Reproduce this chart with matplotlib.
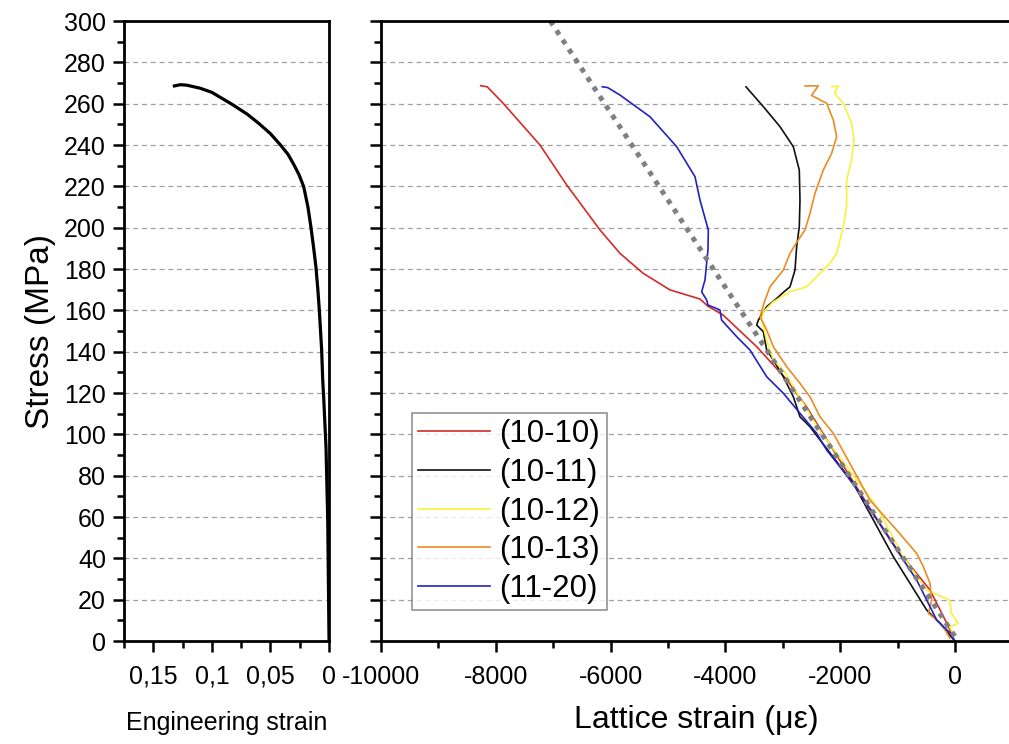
import numpy as np
import matplotlib
matplotlib.use('Agg')
import matplotlib.pyplot as plt
from matplotlib.ticker import MultipleLocator

plt.rcParams['font.family'] = ['Liberation Sans', 'DejaVu Sans']
plt.rcParams['axes.unicode_minus'] = False

# engineering curve (left panel)
eng_strain = [0.132, 0.127, 0.1216, 0.110, 0.100, 0.0819, 0.070, 0.060, 0.050, 0.0414,
              0.035, 0.030, 0.0255, 0.0216, 0.018, 0.0155, 0.0132, 0.0112, 0.0096, 0.0083,
              0.0063, 0.0054, 0.0046, 0.0026, 0.0011, 0.0]
eng_stress = [268.6, 269.2, 269, 267.5, 265.5, 259.4, 255, 250.5, 245.5, 240,
              235.5, 230.5, 225.5, 219.8, 210, 200.5, 190.5, 181.1, 170.5, 160.2,
              140.8, 126.3, 118.2, 94, 58.5, 0]

# lattice strains (right panel)
s_1010 = [-8263, -8150, -7875, -7230, -6765, -6185, -5837, -5436, -4966, -4443, -4304, -4043,
          -3450, -2927, -2579, -2230, -1500, -1000, -436, -150, -35]
y_1010 = [268.7, 268.2, 260.3, 240, 220.7, 198.9, 187.6, 178, 169.9, 165.5, 162, 157.8,
          142.3, 126.3, 113, 97.3, 65, 44, 24.7, 9, 2]

s_1011 = [-3642, -3340, -3049, -2817, -2713, -2701, -2713, -2759, -2788, -2875, -2980,
          -3107, -3281, -3427, -3455, -3340, -3281, -3165, -2991, -2817, -2701, -2527,
          -2352, -1771, -1074, -494, -262, -35]
y_1011 = [268.2, 258.6, 248.9, 239.2, 227.9, 213.4, 200.5, 190.8, 179.5, 171.4, 169,
          165.8, 161.8, 155.3, 152.9, 149.7, 140.8, 136, 127.9, 118.2, 108.5, 103.7,
          97.3, 76.3, 40.8, 15, 8.6, 1]

s_1012 = [-2149, -2033, -2100, -1947, -1801, -1760, -1801, -1888, -1888, -1947, -2033,
          -2062, -2178, -2295, -2469, -2585, -2875, -3165, -3340, -3368, -3281, -3165,
          -2991, -2817, -2643, -2469, -2323, -1365, -901, -494, -93, -64, 52, -93, -35]
y_1012 = [268.2, 268.6, 265, 260.2, 250.5, 242.4, 232.8, 223.1, 210.7, 200.5, 190.8,
          187.6, 182.8, 179.5, 174.7, 171.4, 169, 164.2, 159.3, 155.3, 145.6, 136,
          131.1, 123.1, 115, 106.9, 100.5, 65, 40.8, 24.7, 19.8, 13.4, 8.6, 6.9, 3.7]

s_1013 = [-2614, -2382, -2500, -2236, -2120, -2062, -2149, -2295, -2440, -2527, -2614,
          -2759, -2875, -2991, -3223, -3310, -3397, -3281, -3165, -2933, -2701, -2527,
          -2352, -2120, -1482, -1017, -668, -552, -436, -407, -465, -320, -204, -93]
y_1013 = [268.6, 268.6, 264, 260.2, 252.1, 244, 236, 227.9, 216.6, 206.9, 198.9,
          192.9, 187.6, 179.5, 171.4, 165, 157, 150.5, 142.4, 132.8, 124.7, 118.2,
          108.5, 100.5, 68.2, 53.7, 42.4, 36, 27.9, 19.8, 13.4, 10.2, 6.9, 1.5]

s_1120 = [-6145, -6050, -5837, -5314, -4849, -4530, -4443, -4298, -4304, -4356, -4414, -4327,
          -4304, -4095, -4066, -3804, -3572, -3281, -2991, -2701, -2410, -2236, -2004,
          -1742, -668, -320, -87, 0]
y_1120 = [268.2, 267.8, 264.2, 253.7, 239.2, 224.7, 213.4, 198.9, 189.2, 174.7, 169, 165,
          162.6, 160.2, 155.3, 147.3, 140.8, 127.9, 119.9, 110.2, 100.5, 92.4, 84.3,
          74.7, 29.5, 10.2, 3.9, 0]

elastic_x = [-7050, 50]
elastic_y = [300, 0]

labels = ['(10-10)', '(10-11)', '(10-12)', '(10-13)', '(11-20)']
colors = ['#d42a2a', '#111111', '#f8f23a', '#ee8a22', '#2222c0']

fig = plt.figure(figsize=(10.09, 7.44), dpi=100)
ax1 = fig.add_axes([0.1229, 0.1384, 0.2032, 0.8333])
ax2 = fig.add_axes([0.3776, 0.1384, 0.6258, 0.8333])

for ax in (ax1, ax2):
    ax.set_ylim(0, 300)
    ax.yaxis.set_major_locator(MultipleLocator(20))
    ax.yaxis.set_minor_locator(MultipleLocator(10))
    ax.grid(axis='y', which='major', color='#a0a0a0', linestyle=(0, (4, 3)), linewidth=0.9)
    ax.set_axisbelow(True)
    for sp in ax.spines.values():
        sp.set_linewidth(2)
    ax.tick_params(which='major', direction='out', length=8, width=1.8, labelsize=18)
    ax.tick_params(which='minor', direction='out', length=5, width=1.8)
    ax.tick_params(axis='x', which='major', pad=9)
    ax.tick_params(axis='y', which='major', pad=5)
    ax.tick_params(top=False, right=False)

# left panel
ax1.plot(eng_strain, eng_stress, color='black', lw=2.3)
ax1.set_xlim(0.175, 0)
ax1.set_xticks([0.15, 0.1, 0.05, 0])
ax1.set_xticklabels(['0,15', '0,1', '0,05', '0'])
ax1.xaxis.set_minor_locator(MultipleLocator(0.025))
ax1.set_ylabel('Stress (MPa)', fontsize=24, labelpad=6)
ax1.set_xlabel('Engineering strain', fontsize=18, labelpad=16)

# right panel
series = [(s_1010, y_1010), (s_1011, y_1011), (s_1012, y_1012), (s_1013, y_1013), (s_1120, y_1120)]
for (xs, ys), lab, c in zip(series, labels, colors):
    ax2.plot(xs, ys, color=c, lw=1.2, label=lab)
ax2.plot(elastic_x, elastic_y, color='#808080', lw=3.6, linestyle=(0, (1.0, 1.25)))
ax2.set_xlim(-10000, 1000)
ax2.set_xticks(np.arange(-10000, 1, 2000))
ax2.xaxis.set_minor_locator(MultipleLocator(1000))
ax2.tick_params(axis='y', labelleft=False)
ax2.spines['right'].set_visible(False)
ax2.set_xlabel('Lattice strain (\u03bc\u03b5)', fontsize=23, labelpad=12)

leg = ax2.legend(loc='upper left', bbox_to_anchor=(0.049, 0.368), borderaxespad=0,
                 fontsize=22.5, frameon=True, fancybox=False, handlelength=2.3,
                 handletextpad=0.3, labelspacing=0.28, borderpad=0.2)
leg.get_frame().set_edgecolor('#777777')
leg.get_frame().set_linewidth(1.2)

fig.savefig('out.png', dpi=100)
